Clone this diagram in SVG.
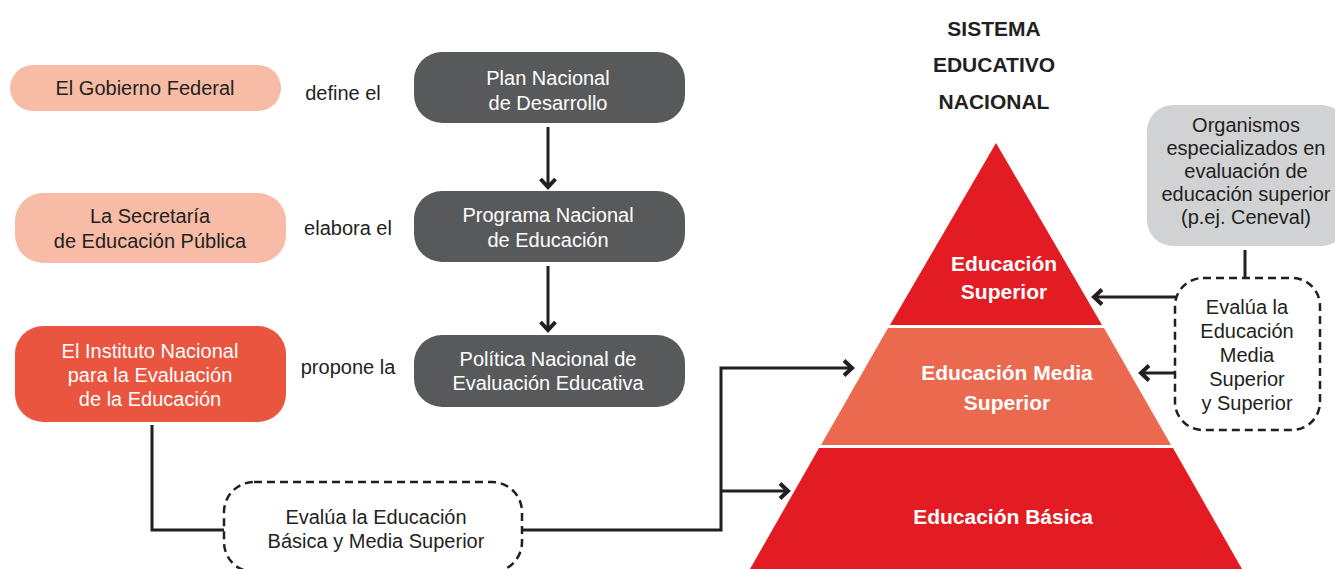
<svg xmlns="http://www.w3.org/2000/svg" width="1335" height="569" viewBox="0 0 1335 569">
<style>
.t{font-family:"Liberation Sans",Arial,sans-serif;font-size:20px;fill:#231f20;text-anchor:middle}
.w{fill:#ffffff}
.b{font-weight:bold;font-size:21px}
.peach{fill:#f7bba6}
.dark{fill:#58595b}
.ln{stroke:#231f20;stroke-width:3;fill:none}
.dash{stroke:#231f20;stroke-width:2.5;fill:none;stroke-dasharray:8 5}
</style>
<defs>
<marker id="ah" markerUnits="userSpaceOnUse" markerWidth="20" markerHeight="20" refX="13" refY="10" orient="auto" viewBox="0 0 20 20">
<path d="M4,2.5 L12,10 L4,17.5" fill="none" stroke="#231f20" stroke-width="4"/>
</marker>
</defs>
<rect width="1335" height="569" fill="#ffffff"/>

<g id="title">
<text class="t b" x="994" y="36">SISTEMA</text>
<text class="t b" x="994" y="72">EDUCATIVO</text>
<text class="t b" x="994" y="109">NACIONAL</text>
</g>

<g id="gobierno">
<rect class="peach" x="10" y="65" width="271" height="46" rx="23"/>
<text class="t" x="145" y="95">El Gobierno Federal</text>
</g>
<text class="t" x="343" y="100">define el</text>

<g id="sep">
<rect class="peach" x="15" y="193" width="271" height="70" rx="28"/>
<text class="t" x="150" y="223">La Secretaría</text>
<text class="t" x="150" y="248">de Educación Pública</text>
</g>
<text class="t" x="348" y="235">elabora el</text>

<g id="inee">
<rect x="15" y="326" width="271" height="96" rx="28" fill="#e9553f"/>
<text class="t w" x="150" y="358">El Instituto Nacional</text>
<text class="t w" x="150" y="382">para la Evaluación</text>
<text class="t w" x="150" y="406">de la Educación</text>
</g>
<text class="t" x="348" y="374">propone la</text>

<g id="plan">
<rect class="dark" x="414" y="52" width="271" height="71" rx="28"/>
<text class="t w" x="548" y="85">Plan Nacional</text>
<text class="t w" x="548" y="110">de Desarrollo</text>
</g>
<g id="programa">
<rect class="dark" x="414" y="191" width="271" height="71" rx="28"/>
<text class="t w" x="548" y="222">Programa Nacional</text>
<text class="t w" x="548" y="247">de Educación</text>
</g>
<g id="politica">
<rect class="dark" x="414" y="335" width="271" height="72" rx="28"/>
<text class="t w" x="548" y="366">Política Nacional de</text>
<text class="t w" x="548" y="390">Evaluación Educativa</text>
</g>

<g id="evalua-basica">
<rect class="dash" x="224" y="482" width="298" height="90" rx="30"/>
<text class="t" x="376" y="524">Evalúa la Educación</text>
<text class="t" x="376" y="548">Básica y Media Superior</text>
</g>

<g id="organismos">
<rect x="1147" y="105" width="200" height="141" rx="26" fill="#d1d2d4"/>
<text class="t" x="1246" y="132">Organismos</text>
<text class="t" x="1246" y="155">especializados en</text>
<text class="t" x="1246" y="178">evaluación de</text>
<text class="t" x="1246" y="201">educación superior</text>
<text class="t" x="1246" y="224">(p.ej. Ceneval)</text>
</g>

<g id="evalua-superior">
<rect class="dash" x="1175" y="278" width="145" height="152" rx="28"/>
<text class="t" x="1247" y="314">Evalúa la</text>
<text class="t" x="1247" y="338">Educación</text>
<text class="t" x="1247" y="362">Media</text>
<text class="t" x="1247" y="386">Superior</text>
<text class="t" x="1247" y="410">y Superior</text>
</g>

<g id="piramide">
<polygon points="996,143 1102,325 890,325" fill="#e31b23"/>
<polygon points="888,328 1104,328 1171,445 821,445" fill="#eb6a4f"/>
<polygon points="819,448 1173,448 1242,569 750,569" fill="#e31b23"/>
<text class="t b w" x="1004" y="271">Educación</text>
<text class="t b w" x="1004" y="299">Superior</text>
<text class="t b w" x="1007" y="380">Educación Media</text>
<text class="t b w" x="1007" y="410">Superior</text>
<text class="t b w" x="1003" y="524">Educación Básica</text>
</g>

<g id="connectors">
<line class="ln" x1="548" y1="127" x2="548" y2="188" stroke-width="4.5" marker-end="url(#ah)"/>
<line class="ln" x1="548" y1="266" x2="548" y2="331" stroke-width="4.5" marker-end="url(#ah)"/>
<polyline class="ln" points="152,425 152,530 224,530"/>
<polyline class="ln" points="522,530 721,530 721,368 853,368" marker-end="url(#ah)"/>
<line class="ln" x1="721" y1="491" x2="789" y2="491" marker-end="url(#ah)"/>
<line class="ln" x1="1245" y1="250" x2="1245" y2="278"/>
<line class="ln" x1="1176" y1="297" x2="1093" y2="297" stroke-width="4" marker-end="url(#ah)"/>
<line class="ln" x1="1176" y1="373" x2="1140" y2="373" stroke-width="4" marker-end="url(#ah)"/>
</g>
</svg>
